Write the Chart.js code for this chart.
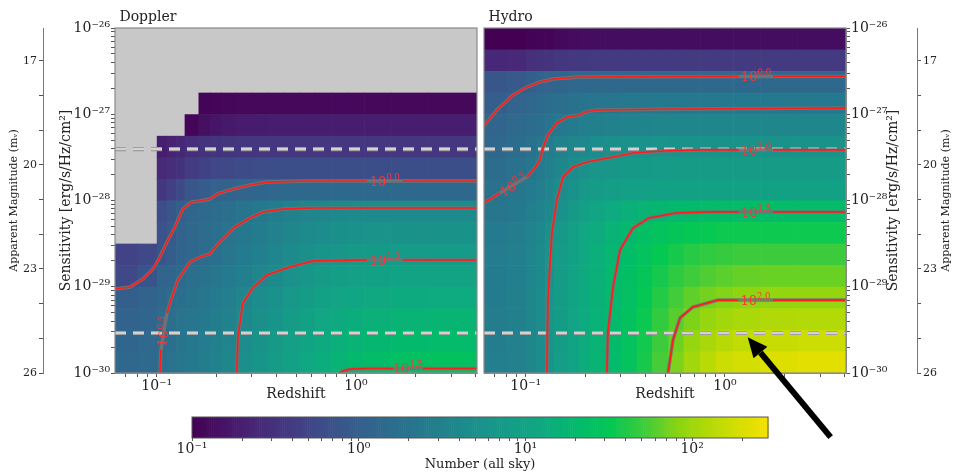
<!DOCTYPE html>
<html><head><meta charset="utf-8">
<script src="https://cdn.jsdelivr.net/npm/chart.js@4.4.1/dist/chart.umd.min.js"></script>
<style>
html,body{margin:0;padding:0;background:#fff;}
#wrap{position:relative;width:953px;height:476px;overflow:hidden;background:#fff;}
#wrap canvas{position:absolute;left:0;top:0;}
</style></head><body>
<div id="wrap">
<canvas id="cL" width="953" height="476"></canvas>
<canvas id="cR" width="953" height="476"></canvas>
<canvas id="cB" width="953" height="476"></canvas>
</div>
<script>
// ---------------- DATA ----------------
const zMin = 0.0617, zMax = 4.05;           // redshift axis range
const sMin = 1e-30, sMax = 1e-26;           // sensitivity axis range
const magMin = 16.05, magMax = 26;          // apparent magnitude axis range
const nMin = 0.1, nMax = 285;               // colour bar range (Number, all sky)

const redshiftEdges = [0.0617, 0.08, 0.1, 0.112, 0.125, 0.138, 0.162, 0.185, 0.21, 0.25, 0.3, 0.36, 0.43, 0.52, 0.62, 0.75, 0.9, 1.1, 1.5, 2.3, 4.05];
const sensitivityEdges = [1e-26, 5.62e-27, 3.16e-27, 1.78e-27, 1e-27, 5.62e-28, 3.16e-28, 1.78e-28, 1e-28, 5.62e-29, 3.16e-29, 1.78e-29, 1e-29, 5.62e-30, 3.16e-30, 1.78e-30, 1e-30];

const xTickValues = [0.07,0.08,0.09,0.1,0.2,0.3,0.4,0.5,0.6,0.7,0.8,0.9,1,2,3,4];
const yTickValues = [1e-30,2e-30,3e-30,4e-30,5e-30,6e-30,7e-30,8e-30,9e-30,1e-29,2e-29,3e-29,4e-29,5e-29,6e-29,7e-29,8e-29,9e-29,1e-28,2e-28,3e-28,4e-28,5e-28,6e-28,7e-28,8e-28,9e-28,1e-27,2e-27,3e-27,4e-27,5e-27,6e-27,7e-27,8e-27,9e-27,1e-26];
const magTickValues = [17,18,19,20,21,22,23,24,25,26];
const magLabelValues = [17,20,23,26];
const cbTickValues = [0.1,0.2,0.3,0.4,0.5,0.6,0.7,0.8,0.9,1,2,3,4,5,6,7,8,9,10,20,30,40,50,60,70,80,90,100,200];

const _ = null;
// log10(Number, all sky) per cell; rows top (1e-26) -> bottom (1e-30), columns low z -> high z
const dopplerLogN = [
 [_,_,_,_,_,_,_,_,_,_,_,_,_,_,_,_,_,_,_,_],
 [_,_,_,_,_,_,_,_,_,_,_,_,_,_,_,_,_,_,_,_],
 [_,_,_,_,_,_,_,_,_,_,_,_,_,_,_,_,_,_,_,_],
 [_,_,_,_,_,_,-0.97,-0.95,-0.94,-0.93,-0.93,-0.93,-0.93,-0.93,-0.93,-0.93,-0.93,-0.93,-0.93,-0.93],
 [_,_,_,_,_,-0.95,-0.85,-0.8,-0.76,-0.74,-0.73,-0.72,-0.72,-0.72,-0.72,-0.72,-0.72,-0.72,-0.72,-0.72],
 [_,_,-0.72,-0.66,-0.62,-0.55,-0.5,-0.48,-0.47,-0.46,-0.45,-0.45,-0.45,-0.45,-0.45,-0.45,-0.45,-0.45,-0.45,-0.45],
 [_,_,-0.6,-0.55,-0.5,-0.4,-0.33,-0.28,-0.25,-0.22,-0.2,-0.19,-0.19,-0.19,-0.19,-0.19,-0.19,-0.19,-0.19,-0.19],
 [_,_,-0.45,-0.35,-0.25,-0.1,-0.02,0.02,0.05,0.08,0.1,0.12,0.13,0.13,0.13,0.13,0.13,0.13,0.13,0.13],
 [_,_,-0.2,-0.1,0.0,0.1,0.15,0.2,0.25,0.3,0.38,0.44,0.5,0.55,0.58,0.6,0.62,0.62,0.62,0.62],
 [_,_,-0.15,-0.05,0.05,0.12,0.17,0.23,0.29,0.36,0.43,0.49,0.56,0.62,0.66,0.7,0.72,0.74,0.75,0.75],
 [-0.32,-0.25,-0.1,-0.02,0.05,0.12,0.18,0.25,0.32,0.4,0.47,0.55,0.62,0.7,0.76,0.8,0.84,0.86,0.87,0.87],
 [-0.25,-0.12,0.05,0.1,0.15,0.22,0.28,0.34,0.4,0.47,0.55,0.63,0.72,0.8,0.87,0.92,0.96,0.98,1.0,1.0],
 [0.0,0.05,0.13,0.18,0.22,0.28,0.34,0.4,0.45,0.55,0.64,0.72,0.82,0.9,0.97,1.02,1.06,1.09,1.11,1.12],
 [0.05,0.1,0.17,0.22,0.27,0.33,0.38,0.44,0.5,0.6,0.7,0.78,0.88,0.97,1.05,1.1,1.15,1.19,1.22,1.24],
 [0.1,0.14,0.2,0.25,0.3,0.36,0.42,0.48,0.54,0.65,0.75,0.84,0.94,1.03,1.1,1.17,1.22,1.27,1.31,1.33],
 [0.12,0.16,0.22,0.27,0.32,0.38,0.44,0.5,0.57,0.69,0.78,0.88,0.98,1.07,1.15,1.22,1.29,1.35,1.4,1.42]
];
const hydroLogN = [
 [-1.0,-1.0,-0.98,-0.97,-0.96,-0.92,-0.9,-0.89,-0.88,-0.88,-0.88,-0.88,-0.88,-0.88,-0.88,-0.88,-0.88,-0.88,-0.88,-0.88],
 [-0.62,-0.6,-0.54,-0.5,-0.48,-0.46,-0.44,-0.43,-0.42,-0.42,-0.42,-0.42,-0.42,-0.42,-0.42,-0.42,-0.42,-0.42,-0.42,-0.42],
 [-0.1,-0.05,0.0,0.04,0.07,0.1,0.12,0.13,0.13,0.13,0.13,0.13,0.13,0.13,0.13,0.13,0.13,0.13,0.13,0.13],
 [0.0,0.06,0.12,0.16,0.2,0.25,0.28,0.3,0.32,0.34,0.36,0.37,0.38,0.38,0.38,0.38,0.38,0.38,0.38,0.38],
 [0.08,0.14,0.2,0.25,0.3,0.36,0.41,0.45,0.48,0.5,0.52,0.54,0.55,0.56,0.56,0.56,0.56,0.56,0.56,0.56],
 [0.12,0.2,0.28,0.34,0.42,0.5,0.56,0.6,0.64,0.68,0.71,0.73,0.74,0.75,0.75,0.75,0.75,0.75,0.75,0.75],
 [0.2,0.26,0.34,0.4,0.48,0.58,0.66,0.72,0.77,0.81,0.84,0.86,0.87,0.88,0.88,0.88,0.88,0.88,0.88,0.88],
 [0.26,0.32,0.4,0.46,0.55,0.65,0.75,0.83,0.88,0.92,0.95,0.96,0.97,0.98,0.98,0.98,0.98,0.98,0.98,0.98],
 [0.32,0.38,0.46,0.52,0.6,0.72,0.84,0.95,1.04,1.12,1.18,1.23,1.27,1.3,1.32,1.34,1.35,1.35,1.35,1.35],
 [0.4,0.44,0.52,0.6,0.72,0.85,0.96,1.05,1.13,1.22,1.3,1.38,1.44,1.48,1.51,1.53,1.55,1.55,1.55,1.55],
 [0.42,0.46,0.54,0.62,0.74,0.87,0.98,1.08,1.17,1.26,1.35,1.44,1.52,1.58,1.63,1.66,1.68,1.7,1.7,1.7],
 [0.43,0.47,0.55,0.63,0.75,0.88,1.0,1.1,1.19,1.29,1.38,1.48,1.57,1.65,1.71,1.76,1.79,1.82,1.83,1.83],
 [0.43,0.48,0.56,0.64,0.76,0.89,1.01,1.11,1.2,1.3,1.4,1.51,1.62,1.72,1.8,1.86,1.9,1.93,1.95,1.95],
 [0.44,0.48,0.57,0.65,0.77,0.9,1.02,1.12,1.21,1.31,1.42,1.54,1.66,1.78,1.88,1.96,2.02,2.06,2.09,2.1],
 [0.44,0.49,0.57,0.66,0.78,0.9,1.03,1.13,1.22,1.32,1.43,1.56,1.7,1.84,1.96,2.05,2.12,2.17,2.2,2.22],
 [0.45,0.49,0.58,0.66,0.78,0.91,1.03,1.14,1.23,1.33,1.44,1.58,1.73,1.88,2.02,2.13,2.22,2.28,2.32,2.35]
];

// contour lines as [log10 z, log10 S]; null = gap where the level label sits
const dopplerC00 = [[-1.21,-29.026],[-1.134,-29.003],[-1.069,-28.91],[-1.019,-28.794],[-0.984,-28.655],[-0.949,-28.481],[-0.909,-28.307],[-0.869,-28.099],[-0.824,-28.017],[-0.783,-28.006],[-0.733,-27.983],[-0.698,-27.925],[-0.633,-27.878],[-0.532,-27.82],[-0.447,-27.786],[-0.231,-27.774],[0.055,-27.774],null,[0.236,-27.774],[0.607,-27.774]];
const dopplerC05 = [[-0.984,-30.0],[-0.979,-29.733],null,[-0.949,-29.304],[-0.924,-29.119],[-0.894,-28.922],[-0.834,-28.713],[-0.783,-28.655],[-0.733,-28.62],[-0.698,-28.516],[-0.608,-28.307],[-0.532,-28.203],[-0.467,-28.133],[-0.367,-28.099],[-0.231,-28.087],[0.607,-28.087]];
const dopplerC10 = [[-0.598,-30.0],[-0.593,-29.583],[-0.568,-29.188],[-0.518,-29.014],[-0.447,-28.864],[-0.332,-28.771],[-0.216,-28.701],[0.055,-28.69],null,[0.236,-28.69],[0.607,-28.69]];
const dopplerC15 = [[-0.081,-30.0],[-0.066,-29.977],[-0.03,-29.955],[0.05,-29.948],[0.186,-29.948],null,[0.336,-29.948],[0.607,-29.948]];
const hydroC00 = [[-1.21,-27.136],[-1.145,-26.951],[-1.064,-26.777],[-1.004,-26.696],[-0.929,-26.626],[-0.864,-26.591],[-0.728,-26.568],[0.07,-26.562],null,[0.241,-26.562],[0.607,-26.562]];
const hydroC05 = [[-1.21,-28.029],[-1.13,-27.913],null,[-0.994,-27.728],[-0.954,-27.623],[-0.929,-27.53],[-0.914,-27.391],[-0.889,-27.241],[-0.844,-27.101],[-0.793,-27.032],[-0.728,-27.009],[-0.703,-26.974],[-0.643,-26.951],[-0.226,-26.939],[0.607,-26.928]];
const hydroC10 = [[-0.894,-30.0],[-0.889,-29.154],[-0.869,-28.377],[-0.844,-27.994],[-0.813,-27.728],[-0.763,-27.612],[-0.693,-27.554],[-0.562,-27.496],[-0.462,-27.449],[-0.311,-27.426],[-0.126,-27.414],[0.07,-27.414],null,[0.241,-27.414],[0.607,-27.414]];
const hydroC15 = [[-0.593,-30.0],[-0.588,-29.536],[-0.562,-29.003],[-0.527,-28.574],[-0.462,-28.319],[-0.382,-28.203],[-0.246,-28.145],[-0.081,-28.133],[0.07,-28.133],null,[0.241,-28.133],[0.607,-28.133]];
const hydroC20 = [[-0.286,-30.0],[-0.261,-29.617],[-0.226,-29.362],[-0.161,-29.235],[-0.035,-29.154],[0.065,-29.154],null,[0.241,-29.154],[0.607,-29.154]];

const dopplerLabels = [{exp:'0.0',lz:0.145,lS:-27.774,rot:0},{exp:'0.5',lz:-0.966,lS:-29.52,rot:-81},{exp:'1.0',lz:0.145,lS:-28.69,rot:0},{exp:'1.5',lz:0.261,lS:-29.948,rot:0}];
const hydroLabels = [{exp:'0.0',lz:0.156,lS:-26.562,rot:0},{exp:'0.5',lz:-1.062,lS:-27.82,rot:-31},{exp:'1.0',lz:0.156,lS:-27.414,rot:0},{exp:'1.5',lz:0.156,lS:-28.133,rot:0},{exp:'2.0',lz:0.153,lS:-29.154,rot:0}];

const sensitivityLimits = [3.95e-28, 2.91e-30];   // dashed horizontal lines
const arrowTip = {z: 1.3, S: 2.6e-30};

// ---------------- STYLE / HELPERS ----------------
const FONT = '"DejaVu Serif", serif';
Chart.defaults.font.family = FONT;
Chart.defaults.color = '#222';
const cmapStops = [[0,'#440154'],[0.1,'#482475'],[0.2,'#414487'],[0.3,'#33628d'],[0.4,'#25798e'],[0.5,'#1a928b'],[0.6,'#10a783'],[0.67,'#03ba6c'],[0.73,'#05c853'],[0.79,'#45cc38'],[0.85,'#90d50f'],[0.92,'#c3dc03'],[1,'#f5e100']];
const hexRGB = c => [parseInt(c.slice(1,3),16),parseInt(c.slice(3,5),16),parseInt(c.slice(5,7),16)];
function colorForLog(v){
  const lo = Math.log10(nMin), hi = Math.log10(nMax);
  let t = Math.max(0, Math.min(1, (v - lo) / (hi - lo)));
  for (let k = 1; k < cmapStops.length; k++){
    if (t <= cmapStops[k][0] || k === cmapStops.length - 1){
      const [t0,c0] = cmapStops[k-1], [t1,c1] = cmapStops[k];
      const f = (t - t0) / (t1 - t0), a = hexRGB(c0), b = hexRGB(c1);
      return 'rgb(' + a.map((q,i)=>Math.round(q + (b[i]-q)*f)).join(',') + ')';
    }
  }
}
const SUP = {'-':'⁻','0':'⁰','1':'¹','2':'²','3':'³','4':'⁴','5':'⁵','6':'⁶','7':'⁷','8':'⁸','9':'⁹'};
function powLabel(v){
  const e = Math.log10(v), r = Math.round(e);
  if (Math.abs(e - r) > 1e-6) return '';
  return '10' + String(r).split('').map(c => SUP[c]).join('');
}
const toXY = p => ({x: Math.pow(10, p[0]), y: Math.pow(10, p[1])});
function contourDatasets(points){
  const under = points.filter(p => p !== null).map(toXY);
  const red = []; let last = null;
  points.forEach(p => { if (p === null) red.push({x: last.x, y: null}); else { last = toXY(p); red.push(last); } });
  return [
    {data: under, showLine: true, borderColor: 'rgba(115,115,115,0.9)', borderWidth: 3.4, pointRadius: 0, spanGaps: true, order: 2, clip: 0},
    {data: red, showLine: true, borderColor: '#ff1c1c', borderWidth: 1.7, pointRadius: 0, spanGaps: false, order: 1, clip: 0}
  ];
}
function dashDatasets(S){
  const d = () => [{x: zMin, y: S}, {x: zMax, y: S}];
  return [
    {data: d(), showLine: true, borderColor: '#8e8e8e', borderWidth: 4.2, borderDash: [11,7], pointRadius: 0, order: 4, clip: 0},
    {data: d(), showLine: true, borderColor: '#d2d2d2', borderWidth: 2.4, borderDash: [11,7], pointRadius: 0, order: 3, clip: 0}
  ];
}
function heatmapPlugin(grid, bg){
  return {
    id: 'heatmap',
    beforeDatasetsDraw(chart){
      const {ctx, chartArea: a, scales: {x, y}} = chart;
      ctx.save();
      ctx.beginPath(); ctx.rect(a.left, a.top, a.width, a.height); ctx.clip();
      if (bg){ ctx.fillStyle = bg; ctx.fillRect(a.left, a.top, a.width, a.height); }
      for (let i = 0; i < grid.length; i++){
        const y0 = y.getPixelForValue(sensitivityEdges[i]), y1 = y.getPixelForValue(sensitivityEdges[i+1]);
        for (let j = 0; j < grid[i].length; j++){
          const v = grid[i][j]; if (v === null) continue;
          const x0 = x.getPixelForValue(redshiftEdges[j]), x1 = x.getPixelForValue(redshiftEdges[j+1]);
          ctx.fillStyle = colorForLog(v);
          ctx.fillRect(x0, y0, x1 - x0 + 0.6, y1 - y0 + 0.6);
        }
      }
      ctx.restore();
    }
  };
}
function labelPlugin(labels){
  return {
    id: 'contourLabels',
    afterDatasetsDraw(chart){
      const {ctx, scales: {x, y}} = chart;
      labels.forEach(L => {
        const px = x.getPixelForValue(Math.pow(10, L.lz)), py = y.getPixelForValue(Math.pow(10, L.lS));
        ctx.save();
        ctx.translate(px, py); ctx.rotate(L.rot * Math.PI / 180);
        const big = '13px ' + FONT, small = '8.5px ' + FONT;
        ctx.font = big; const w1 = ctx.measureText('10').width;
        ctx.font = small; const w2 = ctx.measureText(L.exp).width;
        const x0 = -(w1 + w2) / 2;
        ctx.textBaseline = 'middle'; ctx.textAlign = 'left';
        ctx.fillStyle = '#ff3438';
        ctx.font = big; ctx.fillText('10', x0, 1.5);
        ctx.font = small; ctx.fillText(L.exp, x0 + w1, -3.5);
        ctx.restore();
      });
    }
  };
}
const framePlugin = {
  id: 'frame',
  afterDatasetsDraw(chart){
    const {ctx, chartArea: a} = chart;
    ctx.save(); ctx.strokeStyle = '#8a8a8a'; ctx.lineWidth = 1.2;
    ctx.strokeRect(a.left, a.top, a.width, a.height); ctx.restore();
  }
};
function xAxis(){
  return {
    type: 'logarithmic', position: 'bottom', min: zMin, max: zMax,
    afterBuildTicks: s => { s.ticks = xTickValues.map(v => ({value: v})); },
    ticks: {autoSkip: false, maxRotation: 0, callback: v => powLabel(v), font: {size: 14}, padding: 1, color: '#222'},
    grid: {drawOnChartArea: false, tickLength: 4, tickColor: '#555'},
    border: {display: true, color: '#8a8a8a'},
    title: {display: true, text: 'Redshift', font: {size: 14}, padding: {top: 0, bottom: 0}, color: '#222'},
    afterFit: s => { s.height = 30; }
  };
}
function yAxis(pos, withTitle){
  return {
    type: 'logarithmic', position: pos, min: sMin, max: sMax,
    afterBuildTicks: s => { s.ticks = yTickValues.map(v => ({value: v})); },
    ticks: {autoSkip: false, callback: v => powLabel(v), font: {size: 14}, padding: 1, color: '#222'},
    grid: {drawOnChartArea: false, tickLength: 4, tickColor: '#555'},
    border: {display: true, color: '#8a8a8a'},
    title: {display: withTitle, text: 'Sensitivity [erg/s/Hz/cm²]', font: {size: 14}, padding: {top: 15, bottom: 0}, color: '#222'},
    afterFit: s => { s.width = (pos === 'left') ? 72 : 71; }
  };
}
function magAxis(pos, withTitle){
  return {
    type: 'linear', position: pos, weight: 1, reverse: true, min: magMin, max: magMax,
    afterBuildTicks: s => { s.ticks = magTickValues.map(v => ({value: v})); },
    ticks: {autoSkip: false, callback: v => magLabelValues.includes(v) ? String(v) : '', font: {size: 11}, padding: 2, color: '#222'},
    grid: {drawOnChartArea: false, tickLength: 4, tickColor: '#555'},
    border: {display: true, color: '#777'},
    title: {display: withTitle, text: 'Apparent Magnitude (mᵥ)', font: {size: 11}, padding: {top: 8, bottom: 0}, color: '#222'},
    afterFit: s => { s.width = (pos === 'left') ? 43 : 36; }
  };
}
function panelDatasets(contours){
  let ds = [];
  sensitivityLimits.forEach(S => { ds = ds.concat(dashDatasets(S)); });
  contours.forEach(c => { ds = ds.concat(contourDatasets(c)); });
  return ds;
}
const common = {
  responsive: false, animation: false, devicePixelRatio: 1, events: [],
  plugins: {legend: {display: false}, tooltip: {enabled: false}}
};

// ---------------- LEFT: Doppler ----------------
new Chart(document.getElementById('cL'), {
  type: 'scatter',
  data: {datasets: panelDatasets([dopplerC00, dopplerC05, dopplerC10, dopplerC15])},
  options: Object.assign({}, common, {
    layout: {autoPadding: false, padding: {left: 0, right: 476, top: 5.2, bottom: 73}},
    plugins: {legend: {display: false}, tooltip: {enabled: false},
      title: {display: true, text: ' Doppler', align: 'start', fullSize: false, font: {size: 14, weight: 'normal'}, padding: {top: 4, bottom: 2}, color: '#222'}},
    scales: {x: xAxis(), y: yAxis('left', true), ym: magAxis('left', true)}
  }),
  plugins: [heatmapPlugin(dopplerLogN, '#c8c8c8'), labelPlugin(dopplerLabels), framePlugin]
});

// ---------------- RIGHT: Hydro ----------------
const rightTitles = {
  id: 'rightTitles',
  afterDraw(chart){
    const {ctx, chartArea: a, scales} = chart;
    const cy = (a.top + a.bottom) / 2;
    ctx.save(); ctx.fillStyle = '#222'; ctx.textAlign = 'center'; ctx.textBaseline = 'middle';
    ctx.font = '14px ' + FONT;
    ctx.translate(scales.y.right - 24, cy); ctx.rotate(-Math.PI / 2);
    ctx.fillText('Sensitivity [erg/s/Hz/cm²]', 0, 0);
    ctx.restore();
    ctx.save(); ctx.fillStyle = '#222'; ctx.textAlign = 'center'; ctx.textBaseline = 'middle';
    ctx.font = '11px ' + FONT;
    ctx.translate(scales.ym.right - 7, cy); ctx.rotate(-Math.PI / 2);
    ctx.fillText('Apparent Magnitude (mᵥ)', 0, 0);
    ctx.restore();
  }
};
const arrowPlugin = {
  id: 'arrow',
  afterDraw(chart){
    const {ctx, scales: {x, y}} = chart;
    const tx = x.getPixelForValue(arrowTip.z), ty = y.getPixelForValue(arrowTip.S);
    const ux = -0.638, uy = -0.769, len = 130, head = 20, hw = 9;
    const bx = tx - head * ux, by = ty - head * uy;
    ctx.save();
    ctx.strokeStyle = '#000'; ctx.fillStyle = '#000'; ctx.lineWidth = 6;
    ctx.beginPath(); ctx.moveTo(tx - len * ux, ty - len * uy); ctx.lineTo(bx, by); ctx.stroke();
    ctx.beginPath(); ctx.moveTo(tx, ty);
    ctx.lineTo(bx + hw * (-uy), by + hw * ux); ctx.lineTo(bx - hw * (-uy), by - hw * ux); ctx.closePath(); ctx.fill();
    ctx.restore();
  }
};
new Chart(document.getElementById('cR'), {
  type: 'scatter',
  data: {datasets: panelDatasets([hydroC00, hydroC05, hydroC10, hydroC15, hydroC20])},
  options: Object.assign({}, common, {
    layout: {autoPadding: false, padding: {left: 484, right: 0, top: 5.2, bottom: 73}},
    plugins: {legend: {display: false}, tooltip: {enabled: false},
      title: {display: true, text: ' Hydro', align: 'start', fullSize: false, font: {size: 14, weight: 'normal'}, padding: {top: 4, bottom: 2}, color: '#222'}},
    scales: {x: xAxis(), y: yAxis('right', false), ym: magAxis('right', false)}
  }),
  plugins: [heatmapPlugin(hydroLogN, null), labelPlugin(hydroLabels), framePlugin, rightTitles, arrowPlugin]
});

// ---------------- COLOUR BAR ----------------
const colorbarPlugin = {
  id: 'colorbar',
  beforeDatasetsDraw(chart){
    const {ctx, chartArea: a, scales: {x}} = chart;
    const lo = Math.log10(nMin), hi = Math.log10(nMax), N = 300;
    ctx.save();
    for (let k = 0; k < N; k++){
      const l0 = lo + (hi - lo) * k / N, l1 = lo + (hi - lo) * (k + 1) / N;
      const x0 = x.getPixelForValue(Math.pow(10, l0)), x1 = x.getPixelForValue(Math.pow(10, l1));
      ctx.fillStyle = colorForLog((l0 + l1) / 2);
      ctx.fillRect(x0, a.top, x1 - x0 + 0.6, a.height);
    }
    ctx.strokeStyle = '#555'; ctx.lineWidth = 1;
    ctx.strokeRect(a.left, a.top, a.width, a.height);
    ctx.restore();
  }
};
new Chart(document.getElementById('cB'), {
  type: 'scatter',
  data: {datasets: []},
  options: Object.assign({}, common, {
    layout: {autoPadding: false, padding: {left: 192, right: 185, top: 417, bottom: 4}},
    scales: {
      x: {type: 'logarithmic', position: 'bottom', min: nMin, max: nMax,
        afterBuildTicks: s => { s.ticks = cbTickValues.map(v => ({value: v})); },
        ticks: {autoSkip: false, maxRotation: 0, callback: v => powLabel(v), font: {size: 14}, padding: 0, color: '#222'},
        grid: {drawOnChartArea: false, tickLength: 3, tickColor: '#555'},
        border: {display: false},
        title: {display: true, text: 'Number (all sky)', font: {size: 13}, padding: {top: 0, bottom: 0}, color: '#222'},
        afterFit: s => { s.height = 34; }},
      y: {display: false, min: 0, max: 1}
    }
  }),
  plugins: [colorbarPlugin]
});
</script>
</body></html>
